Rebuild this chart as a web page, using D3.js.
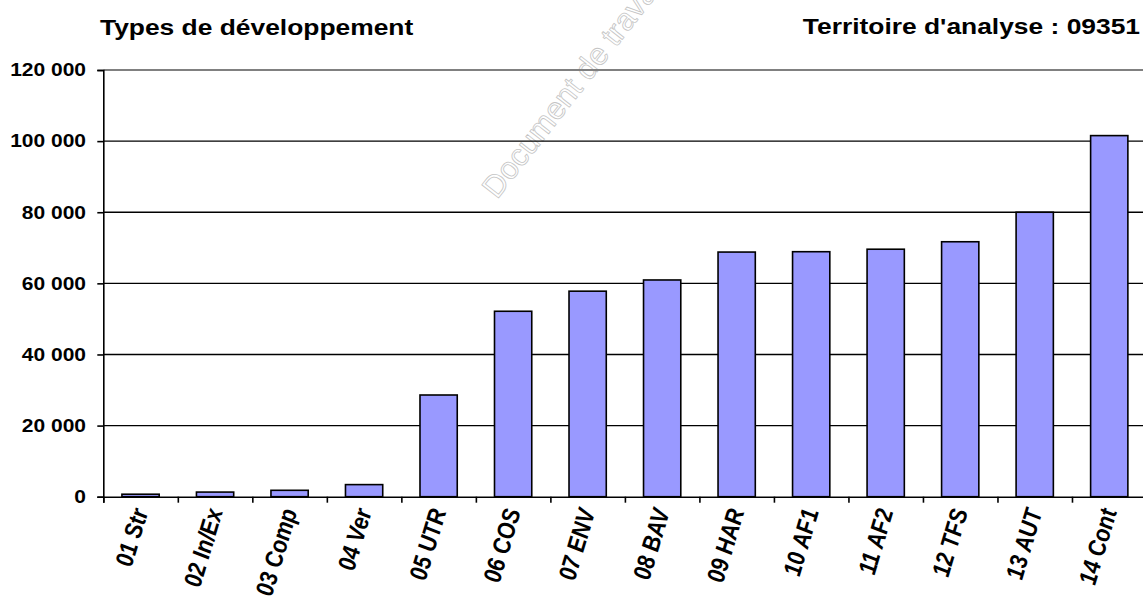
<!DOCTYPE html>
<html><head><meta charset="utf-8">
<script src="https://cdn.jsdelivr.net/npm/d3@7"></script>
<style>body{margin:0;background:#fff}svg{display:block}text{font-family:"Liberation Sans",Arial,sans-serif;font-weight:bold;fill:#000}</style>
</head><body>
<script>
const categories = ["01 Str","02 In/Ex","03 Comp","04 Ver","05 UTR","06 COS","07 ENV","08 BAV","09 HAR","10 AF1","11 AF2","12 TFS","13 AUT","14 Cont"];
const values = [700,1300,1800,3400,28600,52150,57800,60950,68800,68900,69600,71700,80000,101550];
const yTicks = [0,20000,40000,60000,80000,100000,120000];
const titleLeft = "Types de développement";
const titleRight = "Territoire d'analyse : 09351";
const watermark = "Document de travail";

const W = 1143, H = 602, SX = 1.2;
const m = {left:103.3, right:1146.5, top:70, bottom:496.7};
const svg = d3.select("body").append("svg").attr("width",W).attr("height",H);

const x = d3.scaleBand().domain(categories).range([m.left,m.right]).paddingInner(0.5).paddingOuter(0.25);
const y = d3.scaleLinear().domain([0,120000]).range([m.bottom,m.top]);
const fmt = v => d3.format(",")(v).replace(/,/g," ");

// watermark
svg.append("text").attr("transform","translate(497,200) rotate(-52)")
  .style("font-weight","normal").style("font-size","31px")
  .style("fill","none").style("stroke","#c4c4c4").style("stroke-width",0.8)
  .text(watermark);

// gridlines
svg.append("g").selectAll("line").data(yTicks.filter(d=>d>0 && d<120000)).join("line")
  .attr("x1",m.left).attr("x2",W).attr("y1",d=>y(d)).attr("y2",d=>y(d))
  .attr("stroke","#000").attr("stroke-width",1.4);
svg.append("line").attr("x1",m.left).attr("x2",W).attr("y1",y(120000)).attr("y2",y(120000))
  .attr("stroke","#808080").attr("stroke-width",2);

// bars
svg.append("g").selectAll("rect").data(values).join("rect")
  .attr("x",(d,i)=>x(categories[i])).attr("width",x.bandwidth())
  .attr("y",d=>y(d)).attr("height",d=>y(0)-y(d))
  .attr("fill","#9999FF").attr("stroke","#000").attr("stroke-width",1.6);

// y axis
const ya = svg.append("g").attr("transform",`translate(${m.left},0)`)
  .call(d3.axisLeft(y).tickValues(yTicks).tickSize(6).tickFormat(""));
ya.selectAll("line,path").attr("stroke","#000").attr("stroke-width",1.6);
svg.append("g").selectAll("text").data(yTicks).join("text")
  .attr("transform",d=>`translate(86,${y(d)}) scale(${SX},1)`)
  .attr("text-anchor","end").attr("dy","0.36em").style("font-size","17.5px")
  .text(fmt);

// x axis
const xb = d3.scaleLinear().domain([0,14]).range([m.left,m.right]);
const xa = svg.append("g").attr("transform",`translate(0,${m.bottom})`)
  .call(d3.axisBottom(xb).tickValues(d3.range(0,15)).tickSize(6).tickFormat(""));
xa.selectAll("line,path").attr("stroke","#000").attr("stroke-width",1.6);
svg.append("g").selectAll("text").data(categories).join("text")
  .attr("transform",d=>`translate(${x(d)+x.bandwidth()/2+8},511) scale(${SX},1) rotate(-76)`)
  .attr("text-anchor","end").style("font-size","21px").style("font-style","italic")
  .text(d=>d);

// titles
svg.append("text").attr("transform",`translate(100,35) scale(${SX},1)`)
  .style("font-size","22px").text(titleLeft);
svg.append("text").attr("transform",`translate(1140,34) scale(${SX},1)`)
  .attr("text-anchor","end").style("font-size","22px").text(titleRight);
</script>
</body></html>
